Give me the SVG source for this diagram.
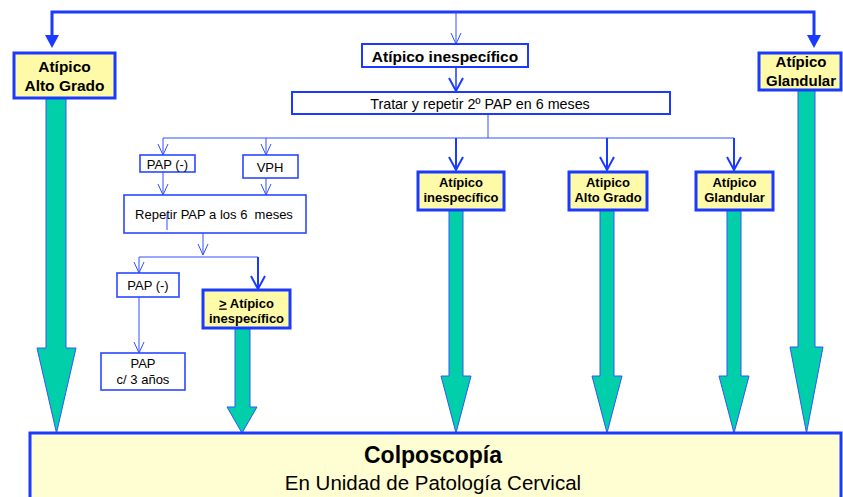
<svg xmlns="http://www.w3.org/2000/svg" width="843" height="497" viewBox="0 0 843 497">
<style>
text{font-family:"Liberation Sans",Arial,sans-serif;fill:#000;text-anchor:middle}
.b{font-weight:bold}
.ybox{fill:#FFFAA8;stroke:#1A3AFF;stroke-width:3}
.wbox{fill:#fff;stroke:#2A48FF;stroke-width:1.6}
.wbox2{fill:#fff;stroke:#1A3AFF;stroke-width:2}
.big{fill:#00CFAA;stroke:#3355FF;stroke-width:1}
.thick{fill:none;stroke:#1A3AFF;stroke-width:3}
.med{fill:none;stroke:#1A3AFF;stroke-width:2}
.thin{fill:none;stroke:#3050FF;stroke-width:1}
</style>
<defs>
<marker id="tri" markerUnits="userSpaceOnUse" viewBox="-6 -8 15 16" markerWidth="15" markerHeight="16" refX="0" refY="0" orient="auto" overflow="visible">
<path d="M-5,-7 L8,0 L-5,7 Z" fill="#1A3AFF"/>
</marker>
<marker id="chev" markerUnits="userSpaceOnUse" viewBox="-12 -7 13 14" markerWidth="13" markerHeight="14" refX="0" refY="0" orient="auto" overflow="visible">
<path d="M-11,-5 L0,0 L-11,5" fill="none" stroke="#3050FF" stroke-width="1"/>
</marker>
<marker id="chev2" markerUnits="userSpaceOnUse" viewBox="-14 -8 15 16" markerWidth="15" markerHeight="16" refX="0" refY="0" orient="auto" overflow="visible">
<path d="M-13,-7 L0,0 L-13,7" fill="none" stroke="#1A3AFF" stroke-width="2"/>
</marker>
</defs>

<g id="connectors">
<path class="thick" d="M456,12 L52,12 L52,40" marker-end="url(#tri)"/>
<path class="thick" d="M456,12 L814,12 L814,40" marker-end="url(#tri)"/>
<path class="thin" d="M456,12 L456,44" marker-end="url(#chev)"/>
<path fill="none" stroke="#1A3AFF" stroke-width="1.5" d="M456,67 L456,91" marker-end="url(#chev2)"/>
<path class="thin" d="M488,114 L488,138 M163,138 L734,138"/>
<path class="med" d="M456,138 L456,170" marker-end="url(#chev2)"/>
<path class="med" d="M607,138 L607,170" marker-end="url(#chev2)"/>
<path class="med" d="M734,138 L734,170" marker-end="url(#chev2)"/>
<path class="thin" d="M163,138 L163,155" marker-end="url(#chev)"/>
<path class="thin" d="M266,138 L266,155" marker-end="url(#chev)"/>
<path class="thin" d="M163,172 L163,195" marker-end="url(#chev)"/>
<path class="thin" d="M266,178 L266,195" marker-end="url(#chev)"/>
<path class="thin" d="M203,233 L203,255" marker-end="url(#chev)"/>
<path class="thin" d="M139,257 L258,257"/>
<path class="thin" d="M139,257 L139,273" marker-end="url(#chev)"/>
<path class="med" d="M258,257 L258,289" marker-end="url(#chev2)"/>
<path class="thin" d="M139,297 L139,353" marker-end="url(#chev)"/>
<polygon class="big" points="46,98 66,98 66,348 76,348 56.5,433 37,348 46,348"/>
<polygon class="big" points="798,90 815,90 815,347 823,347 806.5,433 790,347 798,347"/>
<polygon class="big" points="449,210 463,210 463,376 471,376 456,433 441,376 449,376"/>
<polygon class="big" points="600,210 614,210 614,376 622,376 607,433 592,376 600,376"/>
<polygon class="big" points="727,210 741,210 741,376 749,376 734,433 719,376 727,376"/>
<polygon class="big" points="235,328 250,328 250,407 257,407 242,433 227,407 235,407"/>
</g>

<g id="n-alto-grado-left">
<rect class="ybox" x="14" y="53" width="101" height="45"/>
<text class="b" x="64.5" y="72" font-size="15.5">Atípico</text>
<text class="b" x="64.5" y="91" font-size="15.5">Alto Grado</text>
</g>
<g id="n-glandular-right">
<rect class="ybox" x="759" y="53" width="82" height="37"/>
<text class="b" x="801" y="67" font-size="15">Atípico</text>
<text class="b" x="801" y="86" font-size="15">Glandular</text>
</g>
<g id="n-inesp-top">
<rect class="wbox2" x="362" y="44" width="166" height="23"/>
<text class="b" x="445" y="62" font-size="15.5">Atípico inespecífico</text>
</g>
<g id="n-tratar">
<rect class="wbox2" x="292" y="92" width="378" height="22"/>
<text x="480" y="109" font-size="14.3">Tratar y repetir 2º PAP en 6 meses</text>
</g>
<g id="n-pap1">
<rect class="wbox" x="140" y="155" width="55" height="17"/>
<text x="167.5" y="169" font-size="13">PAP (-)</text>
</g>
<g id="n-vph">
<rect class="wbox" x="243" y="155" width="55" height="23"/>
<text x="270" y="172" font-size="13">VPH</text>
</g>
<g id="n-repetir">
<rect class="wbox" x="124" y="195" width="182" height="38"/>
<text x="214" y="219" font-size="13" xml:space="preserve">Repetir PAP a los 6  meses</text>
<line class="thin" x1="167" y1="213" x2="167" y2="230"/>
</g>
<g id="n-pap2">
<rect class="wbox" x="117" y="273" width="62" height="24"/>
<text x="148" y="290" font-size="13">PAP (-)</text>
</g>
<g id="n-pap3">
<rect class="wbox" x="101" y="353" width="84" height="37"/>
<text x="143" y="368" font-size="13">PAP</text>
<text x="143" y="384" font-size="13">c/ 3 años</text>
</g>
<g id="n-ge-inesp">
<rect class="ybox" x="203" y="290" width="87" height="38"/>
<text class="b" x="246.5" y="307.5" font-size="13"><tspan text-decoration="underline">&gt;</tspan> Atípico</text>
<text class="b" x="246.5" y="323" font-size="13">inespecífico</text>
</g>
<g id="n-inesp-mid">
<rect class="ybox" x="418" y="172" width="86" height="38"/>
<text class="b" x="461" y="186.5" font-size="13">Atípico</text>
<text class="b" x="461" y="202" font-size="13">inespecífico</text>
</g>
<g id="n-alto-mid">
<rect class="ybox" x="569" y="172" width="78" height="38"/>
<text class="b" x="608" y="186.5" font-size="13">Atipico</text>
<text class="b" x="608" y="202" font-size="13">Alto Grado</text>
</g>
<g id="n-glandular-mid">
<rect class="ybox" x="696" y="172" width="77" height="38"/>
<text class="b" x="734.5" y="186.5" font-size="13">Atípico</text>
<text class="b" x="734.5" y="202" font-size="13">Glandular</text>
</g>
<g id="n-colposcopia">
<rect class="ybox" x="30" y="433" width="811" height="70" style="fill:#FFFDD2"/>
<text class="b" x="433" y="463" font-size="23">Colposcopía</text>
<text x="433" y="490" font-size="20.5">En Unidad de Patología Cervical</text>
</g>
</svg>
